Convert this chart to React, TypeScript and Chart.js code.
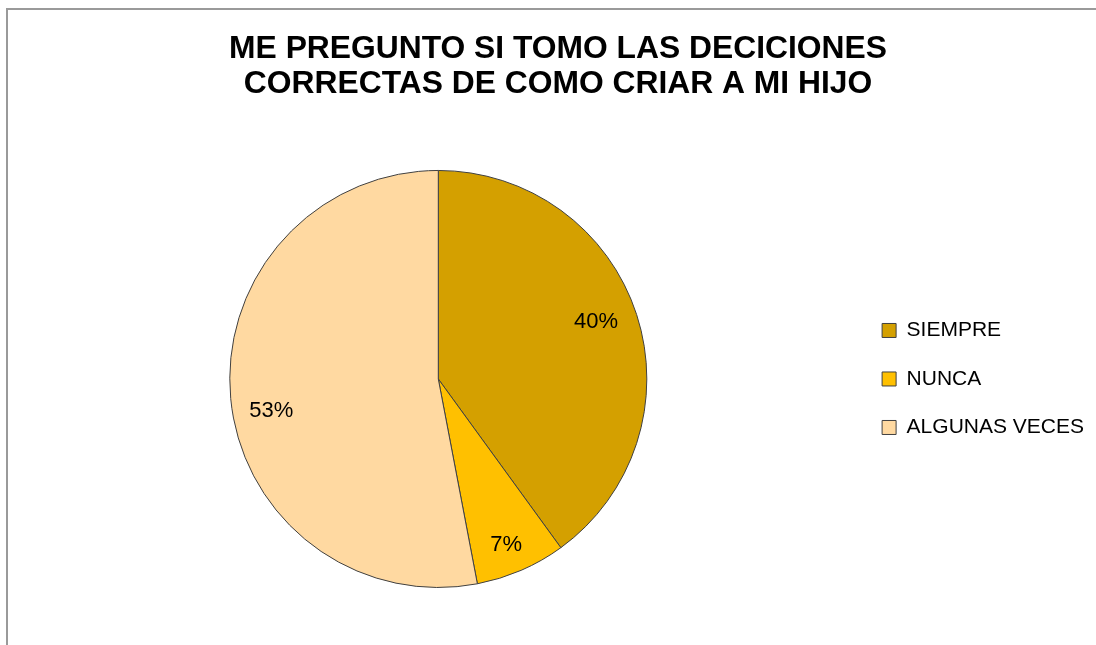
import React, { useEffect, useRef } from "react";
import { Chart, registerables } from "chart.js";

Chart.register(...registerables);

const categories = ["SIEMPRE", "NUNCA", "ALGUNAS VECES"];
const values = [40, 7, 53];
const colors = ["#D4A000", "#FFC000", "#FFD9A1"];
const titleLines = ["ME PREGUNTO SI TOMO LAS DECICIONES", "CORRECTAS DE COMO CRIAR A MI HIJO"];
// small per-label nudges (px) to mimic the spreadsheet's label placement
const labelNudgeX = [-1, 1.5, -1];
const labelNudgeY = [-5.5, 13, 16];

const pctLabels = {
  id: "pctLabels",
  afterDatasetsDraw(chart: any) {
    const ctx = chart.ctx;
    const meta = chart.getDatasetMeta(0);
    const data = chart.data.datasets[0].data as number[];
    const total = data.reduce((a, b) => a + b, 0);
    ctx.save();
    ctx.font = "22px 'Liberation Sans', Arial, sans-serif";
    ctx.fillStyle = "#000";
    ctx.textAlign = "center";
    ctx.textBaseline = "middle";
    meta.data.forEach((arc: any, i: number) => {
      const { x, y, startAngle, endAngle, outerRadius } = arc.getProps(
        ["x", "y", "startAngle", "endAngle", "outerRadius"],
        true
      );
      const mid = (startAngle + endAngle) / 2;
      const r = outerRadius * 0.8;
      const pct = Math.round((data[i] / total) * 100);
      ctx.fillText(
        pct + "%",
        x + Math.cos(mid) * r + labelNudgeX[i],
        y + Math.sin(mid) * r + labelNudgeY[i]
      );
    });
    ctx.restore();
  },
};

export default function App() {
  const ref = useRef<HTMLCanvasElement>(null);
  useEffect(() => {
    if (!ref.current) return;
    const chart = new Chart(ref.current, {
      type: "pie",
      data: {
        labels: categories,
        datasets: [
          {
            data: values,
            backgroundColor: colors,
            borderColor: "#404040",
            borderWidth: 1,
          },
        ],
      },
      options: {
        animation: false,
        responsive: false,
        maintainAspectRatio: false,
        layout: { padding: { left: 14, right: 2, top: 0, bottom: 57 } },
        plugins: {
          title: {
            display: true,
            text: titleLines,
            color: "#000",
            font: { family: "'Liberation Sans', Arial, sans-serif", size: 31.8, weight: "bold", lineHeight: 1.1 },
            padding: { top: 23.5, bottom: 68.5 },
          },
          legend: {
            display: true,
            position: "right",
            fullSize: false,
            labels: {
              boxWidth: 14,
              boxHeight: 14,
              padding: 27.5,
              color: "#000",
              font: { family: "'Liberation Sans', Arial, sans-serif", size: 21 },
            },
          },
          tooltip: { enabled: false },
        },
      },
      plugins: [pctLabels],
    });
    return () => chart.destroy();
  }, []);
  return (
    <div style={{ position: "fixed", left: 0, top: 0, width: 1096, height: 645, overflow: "hidden", background: "#fff" }}>
      <div
        style={{
          position: "absolute",
          left: 6,
          top: 8,
          width: 1200,
          height: 1000,
          borderTop: "2px solid #9a9a9a",
          borderLeft: "2px solid #9a9a9a",
        }}
      />
      <canvas ref={ref} width={1088} height={637} style={{ position: "absolute", left: 8, top: 8, width: 1088, height: 637 }} />
    </div>
  );
}
